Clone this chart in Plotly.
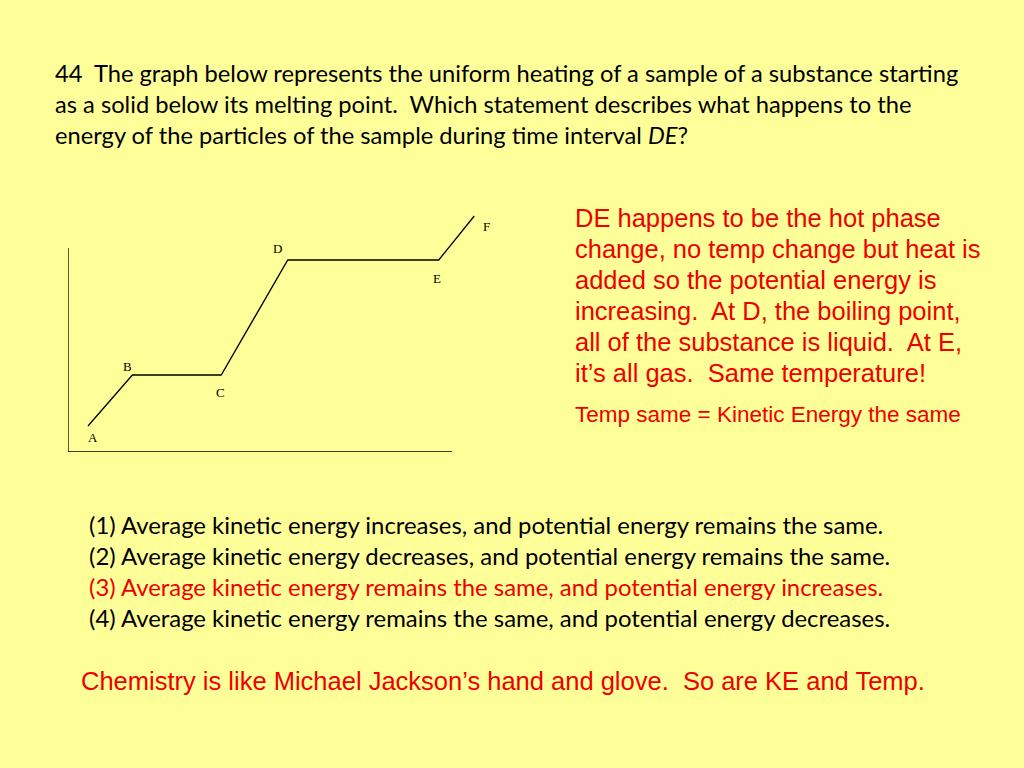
"""Heating curve slide: question 44, phase change interval DE."""
import plotly.graph_objects as go

# heating curve points (time vs temperature, arbitrary units)
point_labels = ['A', 'B', 'C', 'D', 'E', 'F']
times = [0.9, 2.9, 6.9, 9.9, 16.7, 18.3]
temps = [13, 38.5, 38.5, 96, 96, 118]
label_shift_x = [5, -5, -1, -10, -2, 12]
label_shift_y = [-11, 9, -17, 12, -18, -10]

# axis extents (same units)
axis_time_end = 17.3
axis_temp_top = 102

question_lines = [
    '44  The graph below represents the uniform heating of a sample of a substance starting',
    'as a solid below its melting point.  Which statement describes what happens to the',
    'energy of the particles of the sample during time interval <i>DE</i>?',
]
note_lines = [
    'DE happens to be the hot phase',
    'change, no temp change but heat is',
    'added so the potential energy is',
    'increasing.  At D, the boiling point,',
    'all of the substance is liquid.  At E,',
    'it\u2019s all gas.  Same temperature!',
]
note_small = 'Temp same = Kinetic Energy the same'
choices = [
    '(1) Average kinetic energy increases, and potential energy remains the same.',
    '(2) Average kinetic energy decreases, and potential energy remains the same.',
    '(3) Average kinetic energy remains the same, and potential energy increases.',
    '(4) Average kinetic energy remains the same, and potential energy decreases.',
]
correct_choice = 2
footer = 'Chemistry is like Michael Jackson\u2019s hand and glove.  So are KE and Temp.'

W, H = 1024, 768
BG = '#FFFF99'
RED = '#EE0000'
BODY_FONT = 'Lato'
SANS = 'Liberation Sans'


def px(x):
    return x / W


def py(y):
    return 1 - y / H


fig = go.Figure()
fig.add_trace(go.Scatter(x=times, y=temps, mode='lines',
                         line=dict(color='black', width=1.3),
                         hoverinfo='skip', showlegend=False))

# plot axes drawn as plain lines
fig.add_shape(type='line', x0=0, x1=0, y0=0, y1=axis_temp_top,
              xref='x', yref='y', line=dict(color='black', width=1.3))
fig.add_shape(type='line', x0=0, x1=axis_time_end, y0=0, y1=0,
              xref='x', yref='y', line=dict(color='black', width=1.3))

for lab, t, temp, dx, dy in zip(point_labels, times, temps, label_shift_x, label_shift_y):
    fig.add_annotation(x=t, y=temp, xref='x', yref='y', text=lab, showarrow=False,
                       xshift=dx, yshift=dy,
                       font=dict(family='Liberation Serif', size=13, color='black'))

annotations = []
for i, line in enumerate(question_lines):
    annotations.append(dict(x=px(53), y=py(73 + i * 31), text=line))
for i, line in enumerate(note_lines):
    annotations.append(dict(x=px(573), y=py(218 + i * 31), text=line,
                            font=dict(family=SANS, size=25.5, color=RED)))
annotations.append(dict(x=px(573), y=py(414), text=note_small,
                        font=dict(family=SANS, size=22.5, color=RED)))
for i, line in enumerate(choices):
    color = RED if i == correct_choice else 'black'
    annotations.append(dict(x=px(87), y=py(524 + i * 31), text=line,
                            font=dict(family=BODY_FONT, size=23.9, color=color)))
annotations.append(dict(x=px(79), y=py(681), text=footer,
                        font=dict(family=SANS, size=25.5, color=RED)))

for a in annotations:
    a.setdefault('font', dict(family=BODY_FONT, size=23.7, color='black'))
    fig.add_annotation(xref='paper', yref='paper', xanchor='left', yanchor='middle',
                       showarrow=False, **a)

fig.update_layout(width=W, height=H,
                  margin=dict(l=0, r=0, t=0, b=0),
                  paper_bgcolor=BG, plot_bgcolor=BG,
                  showlegend=False)
fig.update_xaxes(domain=[px(68), px(500)], range=[0, (500 - 68) / 22.2],
                 visible=False)
fig.update_yaxes(domain=[py(452), py(200)], range=[0, (452 - 200) / 2],
                 visible=False)

# drop the default page margin so the slide fills the window
fig.write_html('out.html', config={'displayModeBar': False},
               post_script="document.body.style.margin='0';"
                           "document.body.style.overflow='hidden';"
                           "document.body.style.background='" + BG + "';")
